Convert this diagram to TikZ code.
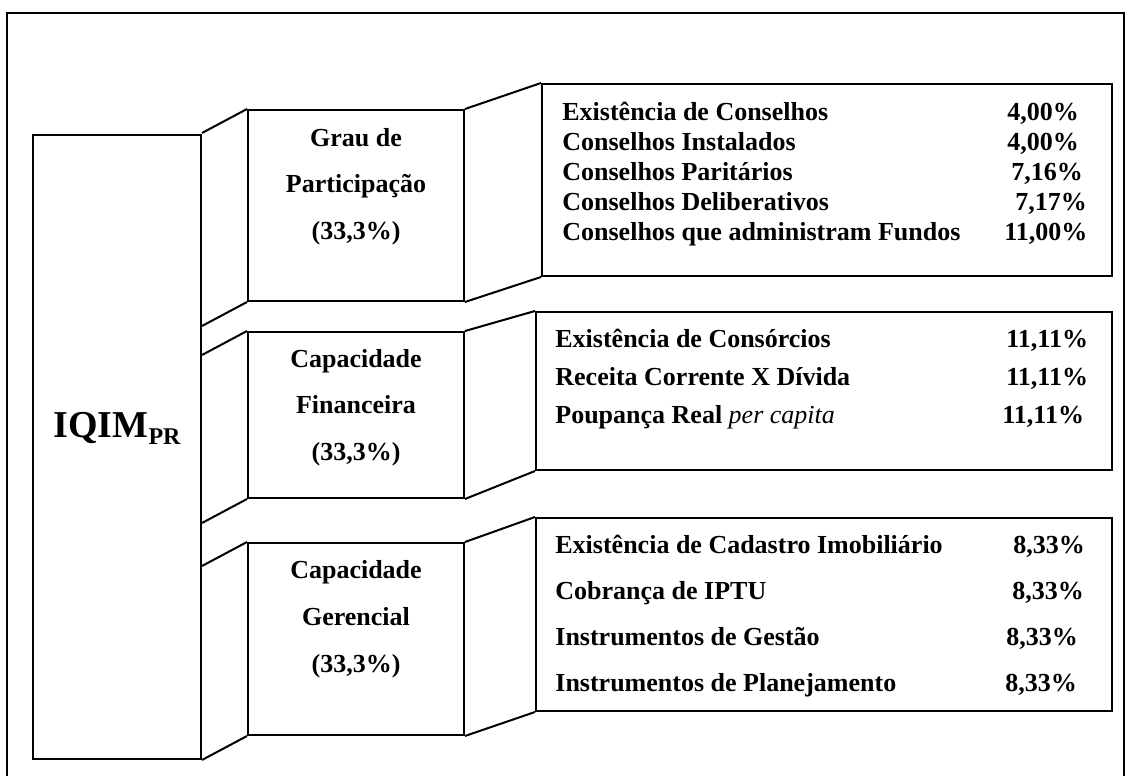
\documentclass[tikz,border=0pt]{standalone}
\usepackage{fontspec}
\setmainfont{Liberation Serif}
\usetikzlibrary{positioning, calc}

\begin{document}
\begin{tikzpicture}[
            x=0.5pt, y=-0.5pt,
            caixa/.style={
                    draw,
                    line width=1pt,
                    inner sep=0pt,
                    anchor=north west
                },
            liga/.style={
                    draw,
                    line width=1pt
                },
            texto/.style={
                    font=\fontsize{13}{15}\selectfont\bfseries,
                    inner sep=0pt
                }
        ]

        \useasboundingbox (0,0) rectangle (1126,776);
        % moldura
        \draw[liga] (7,776) -- (7,13) -- (1124,13) -- (1124,776);

        % caixas
        \node[caixa, minimum width=84pt, minimum height=312pt] (iqim) at (32,134) {};
        \node[caixa, minimum width=108pt, minimum height=95.5pt] (grau) at (247,109) {};
        \node[caixa, minimum width=108pt, minimum height=83pt] (fin) at (247,331) {};
        \node[caixa, minimum width=108pt, minimum height=96pt] (ger) at (247,542) {};
        \node[caixa, minimum width=285pt, minimum height=96pt] (cons) at (541,83) {};
        \node[caixa, minimum width=288pt, minimum height=79pt] (fina) at (535,311) {};
        \node[caixa, minimum width=288pt, minimum height=96.5pt] (gere) at (535,517) {};

        % ligacoes
        \foreach \m/\r in {grau/cons, fin/fina, ger/gere} {
            \draw[liga] ($(\m.north west -| iqim.east)+(0,24)$) -- (\m.north west);
            \draw[liga] ($(\m.south west -| iqim.east)+(0,24)$) -- (\m.south west);
            \draw[liga] (\m.north east) -- (\r.north west);
            \draw[liga] (\m.south east) -- (\r.south west);
        }

        % textos
        \node[texto, font=\fontsize{19}{21}\selectfont\bfseries, anchor=base] (iqimtxt) at (iqim.north |- 0,437)
            {IQIM\raisebox{-3.5pt}{\fontsize{12}{12}\selectfont PR}};

        \foreach \t/\y [count=\i] in {Grau de/146, Participação/192, {(33,3\%)}/239}
            \node[texto, anchor=base] (grau\i) at (grau.north |- 0,\y) {\t};
        \foreach \t/\y [count=\i] in {Capacidade/367, Financeira/413, {(33,3\%)}/460}
            \node[texto, anchor=base] (fin\i) at (fin.north |- 0,\y) {\t};
        \foreach \t/\y [count=\i] in {Capacidade/578, Gerencial/625, {(33,3\%)}/672}
            \node[texto, anchor=base] (ger\i) at (ger.north |- 0,\y) {\t};

        \foreach \t/\p/\px/\y [count=\i] in {
                Existência de Conselhos/{4,00\%}/1007/120,
                Conselhos Instalados/{4,00\%}/1007/150,
                Conselhos Paritários/{7,16\%}/1011/180,
                Conselhos Deliberativos/{7,17\%}/1015/210,
                Conselhos que administram Fundos/{11,00\%}/1004/240} {
            \node[texto, anchor=base west] (cons-a\i) at (562,\y) {\t};
            \node[texto, anchor=base west] (cons-p\i) at (\px,\y) {\p};
        }
        \foreach \t/\p/\px/\y [count=\i] in {
                Existência de Consórcios/{11,11\%}/1006/347,
                Receita Corrente X Dívida/{11,11\%}/1006/385,
                Poupança Real {\mdseries\itshape per capita}/{11,11\%}/1002/423} {
            \node[texto, anchor=base west] (fina-a\i) at (555,\y) {\t};
            \node[texto, anchor=base west] (fina-p\i) at (\px,\y) {\p};
        }
        \foreach \t/\p/\px/\y [count=\i] in {
                Existência de Cadastro Imobiliário/{8,33\%}/1013/553,
                Cobrança de IPTU/{8,33\%}/1012/599,
                Instrumentos de Gestão/{8,33\%}/1006/645,
                Instrumentos de Planejamento/{8,33\%}/1005/691} {
            \node[texto, anchor=base west] (gere-a\i) at (555,\y) {\t};
            \node[texto, anchor=base west] (gere-p\i) at (\px,\y) {\p};
        }

    \end{tikzpicture}
\end{document}
